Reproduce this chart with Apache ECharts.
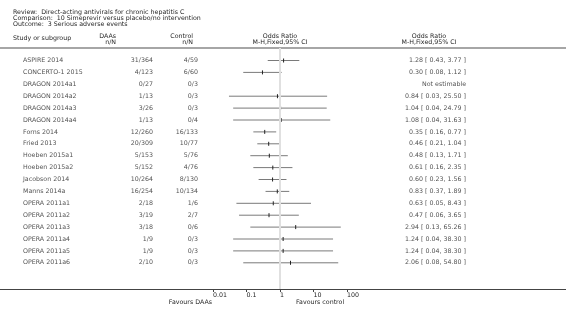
<!DOCTYPE html>
<html>
<head>
<meta charset="utf-8">
<script src="https://cdn.jsdelivr.net/npm/echarts@6/dist/echarts.min.js"></script>
<style>
  html, body { margin: 0; padding: 0; background: #fff; }
  #chart { width: 566px; height: 322px; }
</style>
</head>
<body>
<div id="chart"></div>
<script>
// data
const studies = [
  'ASPIRE 2014', 'CONCERTO-1 2015', 'DRAGON 2014a1', 'DRAGON 2014a2', 'DRAGON 2014a3',
  'DRAGON 2014a4', 'Forns 2014', 'Fried 2013', 'Hoeben 2015a1', 'Hoeben 2015a2',
  'Jacobson 2014', 'Manns 2014a', 'OPERA 2011a1', 'OPERA 2011a2', 'OPERA 2011a3',
  'OPERA 2011a4', 'OPERA 2011a5', 'OPERA 2011a6'
]
const daas = ['31/364', '4/123', '0/27', '1/13', '3/26', '1/13', '12/260', '20/309', '5/153',
  '5/152', '10/264', '16/254', '2/18', '3/19', '3/18', '1/9', '1/9', '2/10']
const control = ['4/59', '6/60', '0/3', '0/3', '0/3', '0/4', '16/133', '10/77', '5/76',
  '4/76', '8/130', '10/134', '1/6', '2/7', '0/6', '0/3', '0/3', '0/3']
// null = not estimable
const oddsRatio = [1.28, 0.30, null, 0.84, 1.04, 1.08, 0.35, 0.46, 0.48, 0.61, 0.60, 0.83, 0.63, 0.47, 2.94, 1.24, 1.24, 2.06]
const ciLow = [0.43, 0.08, null, 0.03, 0.04, 0.04, 0.16, 0.21, 0.13, 0.16, 0.23, 0.37, 0.05, 0.06, 0.13, 0.04, 0.04, 0.08]
const ciHigh = [3.77, 1.12, null, 25.50, 24.79, 31.63, 0.77, 1.04, 1.71, 2.35, 1.56, 1.89, 8.43, 3.65, 65.26, 38.30, 38.30, 54.80]
const tickLabels = ['0.01', '0.1', '1', '10', '100']

const FONT = 'DejaVu Sans'
const FS = 6.3
const TXT = '#1f1f1f'

// layout
const W = 566
const plotTop = 48, plotBottom = 289
const rowH = 11.9, firstRow = 60.5
const yMin = -(firstRow - plotTop) / rowH
const yMax = yMin + (plotBottom - plotTop) / rowH

function fmt(v) { return v.toFixed(2) }
const orText = oddsRatio.map((v, i) =>
  v == null ? 'Not estimable' : fmt(v) + ' [ ' + fmt(ciLow[i]) + ', ' + fmt(ciHigh[i]) + ' ]')

const ciData = []
oddsRatio.forEach((v, i) => {
  if (v != null) ciData.push([i, v, ciLow[i], ciHigh[i]])
})

function textColumn(x, texts, align) {
  return {
    type: 'scatter', xAxisIndex: 1, yAxisIndex: 1, symbolSize: 0, silent: true,
    data: texts.map((t, i) => [x, i]),
    label: {
      show: true, position: 'inside', align: align, verticalAlign: 'middle',
      fontFamily: FONT, fontSize: FS, color: TXT,
      formatter: p => texts[p.dataIndex]
    }
  }
}

function txt(x, y, s, align) {
  return { type: 'text', x: x, y: y, style: { text: s, font: FS + 'px "' + FONT + '"', fill: TXT, textAlign: align || 'left', textVerticalAlign: 'middle' } }
}

const chart = echarts.init(document.getElementById('chart'))
chart.setOption({
  animation: false,
  grid: [
    { left: 213, width: 134, top: plotTop, height: plotBottom - plotTop },
    { left: 0, right: 0, top: plotTop, height: plotBottom - plotTop }
  ],
  xAxis: [
    {
      type: 'log', logBase: 10, min: 0.01, max: 100, interval: 1, gridIndex: 0,
      axisLine: { show: true, onZero: false, lineStyle: { color: '#444', width: 1 } },
      axisTick: { show: true, length: 3, lineStyle: { color: '#444' } },
      axisLabel: {
        align: 'left', margin: 3, fontFamily: FONT, fontSize: FS, color: TXT,
        formatter: (v, idx) => tickLabels[idx]
      },
      splitLine: { show: false }
    },
    { type: 'value', min: 0, max: W, gridIndex: 1, show: false }
  ],
  yAxis: [
    { type: 'value', min: yMin, max: yMax, inverse: true, gridIndex: 0, show: false },
    { type: 'value', min: yMin, max: yMax, inverse: true, gridIndex: 1, show: false }
  ],
  series: [
    {
      type: 'custom', xAxisIndex: 0, yAxisIndex: 0, silent: true,
      data: ciData,
      encode: { x: [1, 2, 3], y: 0 },
      renderItem: (params, api) => {
        const row = api.value(0)
        const p = api.coord([api.value(1), row])
        const lo = api.coord([api.value(2), row])
        const hi = api.coord([api.value(3), row])
        return {
          type: 'group',
          children: [
            { type: 'line', shape: { x1: lo[0], y1: lo[1], x2: hi[0], y2: hi[1] }, style: { stroke: '#7a7a7a', lineWidth: 1 } },
            { type: 'line', shape: { x1: p[0], y1: p[1] - 2, x2: p[0], y2: p[1] + 2 }, style: { stroke: '#222', lineWidth: 1 } }
          ]
        }
      },
      markLine: {
        silent: true, symbol: 'none', label: { show: false },
        lineStyle: { color: '#e0e0e0', width: 2, type: 'solid' },
        data: [{ xAxis: 1 }]
      },
      z: 3
    },
    textColumn(23, studies, 'left'),
    textColumn(153, daas, 'right'),
    textColumn(198, control, 'right'),
    textColumn(466, orText, 'right')
  ],
  graphic: [
    { type: 'line', shape: { x1: 0, y1: plotTop, x2: W, y2: plotTop }, style: { stroke: '#888', lineWidth: 1.5 }, z: 1 },
    { type: 'line', shape: { x1: 0, y1: plotBottom + 0.5, x2: W, y2: plotBottom + 0.5 }, style: { stroke: '#444', lineWidth: 1 }, z: 1 },
    txt(13, 12, 'Review:  Direct-acting antivirals for chronic hepatitis C'),
    txt(13, 18, 'Comparison:  10 Simeprevir versus placebo/no intervention'),
    txt(13, 24, 'Outcome:  3 Serious adverse events'),
    txt(13, 38, 'Study or subgroup'),
    txt(116, 36.5, 'DAAs', 'right'),
    txt(116, 42.5, 'n/N', 'right'),
    txt(193, 36.5, 'Control', 'right'),
    txt(193, 42.5, 'n/N', 'right'),
    txt(280, 36.5, 'Odds Ratio', 'center'),
    txt(280, 42.5, 'M-H,Fixed,95% CI', 'center'),
    txt(429, 36.5, 'Odds Ratio', 'center'),
    txt(429, 42.5, 'M-H,Fixed,95% CI', 'center'),
    txt(212, 302, 'Favours DAAs', 'right'),
    txt(296, 302, 'Favours control', 'left')
  ]
})
</script>
</body>
</html>
